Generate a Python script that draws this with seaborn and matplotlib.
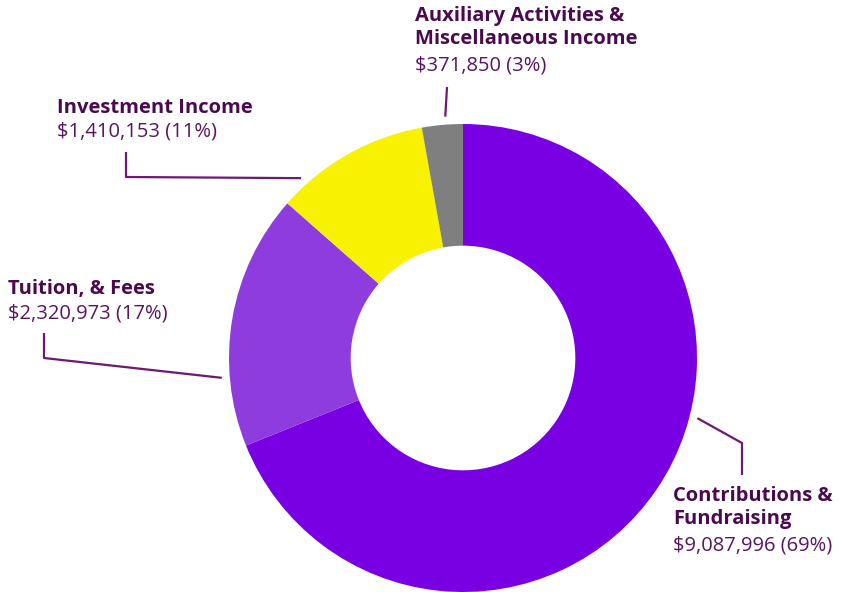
import numpy as np
import matplotlib.pyplot as plt
import seaborn as sns

# -------------------------------------------------
# Data
# -------------------------------------------------
categories = ["Contributions &\nFundraising", "Tuition, & Fees",
              "Investment Income", "Auxiliary Activities &\nMiscellaneous Income"]
amounts = [9087996, 2320973, 1410153, 371850]
percents = [69, 17, 11, 3]
colors = ["#7A00E4", "#8E3CDE", "#F8F200", "#7F7F80"]

# label layout: text left x / top y, ring anchor angle (deg), leader path to text
label_layout = [
    dict(x=673, y=486, ang=-14.4, path=[(742, 443), (742, 475)]),
    dict(x=8, y=279, ang=184.7, path=[(44, 358), (44, 333)]),
    dict(x=57, y=98, ang=132.0, path=[(126, 177), (126, 152)]),
    dict(x=415, y=6, ang=94.2, path=[(447, 87)]),
]

sns.set_style("white")
plt.rcParams["font.family"] = ["Open Sans", "DejaVu Sans"]

W, H = 845, 592
fig = plt.figure(figsize=(W / 100, H / 100), dpi=100)
ax = fig.add_axes([0, 0, 1, 1])

cx, cy, R = 463, 358, 234
# y axis is inverted, so flip the direction to keep clockwise-from-top order
ax.pie(amounts, colors=colors, startangle=-90, counterclock=True,
       center=(cx, cy), radius=R, frame=True,
       wedgeprops=dict(width=R * 0.52, edgecolor="none"))
ax.set_xlim(0, W)
ax.set_ylim(H, 0)
ax.set_aspect("equal")
ax.axis("off")

title_c = "#4B0A50"
value_c = "#5A1560"
line_c = "#6A1A70"

for cat, amt, pct, lay in zip(categories, amounts, percents, label_layout):
    a = np.deg2rad(lay["ang"])
    ring_pt = (cx + (R + 8) * np.cos(a), cy - (R + 8) * np.sin(a))
    xs, ys = zip(*([ring_pt] + lay["path"]))
    ax.plot(xs, ys, color=line_c, lw=1.6, solid_capstyle="butt")
    n_lines = cat.count("\n") + 1
    ax.text(lay["x"], lay["y"], cat, fontsize=14.5, fontweight="bold",
            color=title_c, va="top", ha="left", linespacing=1.2)
    ax.text(lay["x"], lay["y"] + 25 * n_lines - 1, f"${amt:,} ({pct}%)",
            fontsize=14.5, color=value_c, va="top", ha="left")

fig.savefig("out.png", dpi=100)
